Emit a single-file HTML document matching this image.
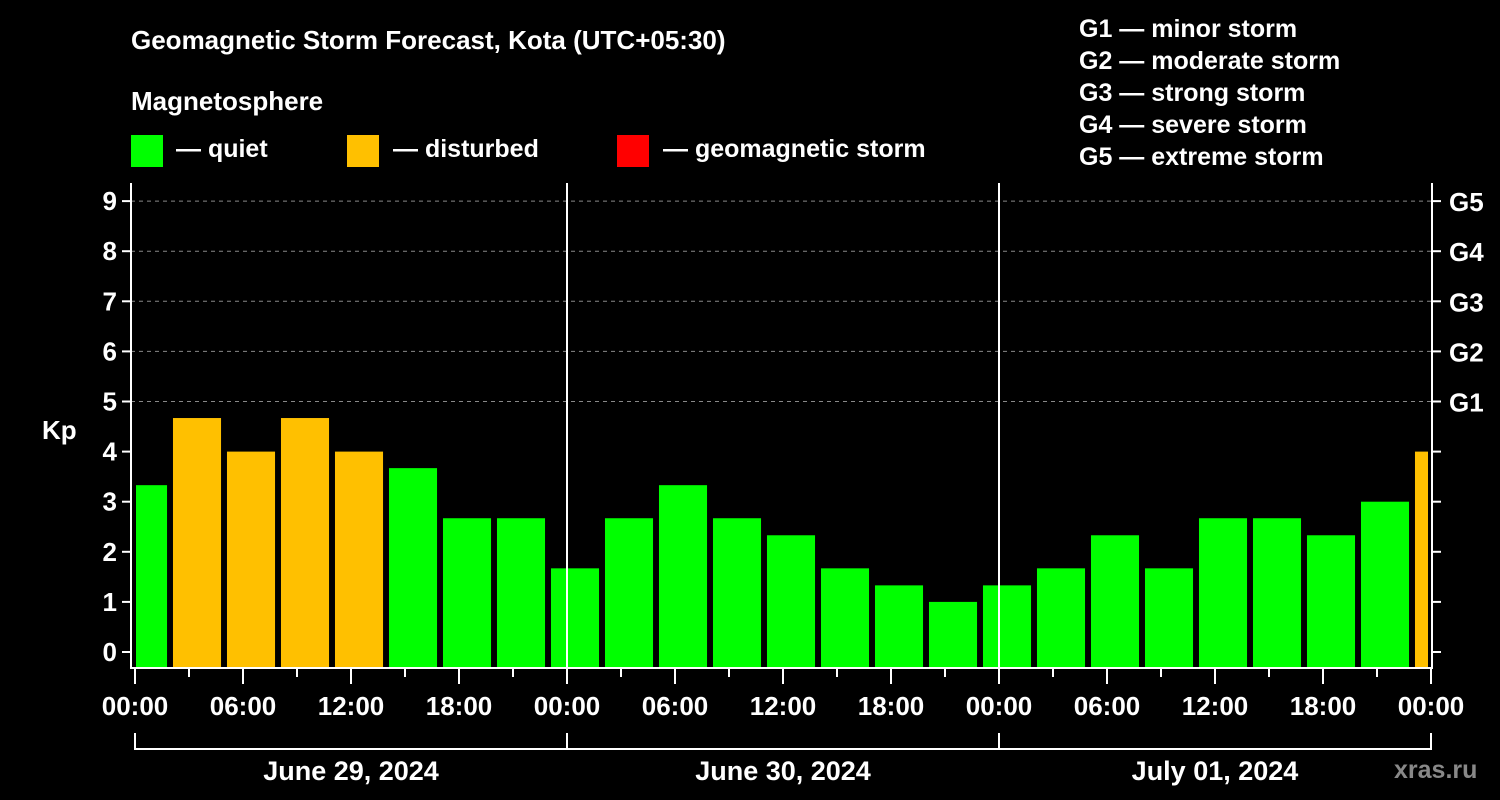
<!DOCTYPE html>
<html><head><meta charset="utf-8"><style>
html,body{margin:0;padding:0;background:#000;width:1500px;height:800px;overflow:hidden}
svg text{font-family:"Liberation Sans",Arial,sans-serif;font-weight:bold;fill:#fff}
</style></head><body>
<svg id="chart" width="1500" height="800" viewBox="0 0 1500 800" xmlns="http://www.w3.org/2000/svg">
<text x="131" y="49" font-size="26">Geomagnetic Storm Forecast, Kota (UTC+05:30)</text>
<text x="131" y="110" font-size="26">Magnetosphere</text>
<g>
<rect x="131" y="135" width="32" height="32" fill="#00ff00"/>
<text x="176" y="157" font-size="25">— quiet</text>
<rect x="347" y="135" width="32" height="32" fill="#ffc000"/>
<text x="393" y="157" font-size="25">— disturbed</text>
<rect x="617" y="135" width="32" height="32" fill="#ff0000"/>
<text x="663" y="157" font-size="25">— geomagnetic storm</text>
</g>
<g font-size="25">
<text x="1079" y="37">G1 — minor storm</text>
<text x="1079" y="69">G2 — moderate storm</text>
<text x="1079" y="101">G3 — strong storm</text>
<text x="1079" y="133">G4 — severe storm</text>
<text x="1079" y="165">G5 — extreme storm</text>
</g>
<text x="42" y="439" font-size="26">Kp</text>
<text x="1394" y="778" font-size="25" fill="#888" style="fill:#888">xras.ru</text>
<g id="grid"></g><g id="bars"></g><g id="axes"></g>
</svg>
<script>
const kpValues=[3.33,4.67,4,4.67,4,3.67,2.67,2.67,1.67,2.67,3.33,2.67,2.33,1.67,1.33,1,1.33,1.67,2.33,1.67,2.67,2.67,2.33,3,4];
const barStartHours=[-0.89,2.11,5.11,8.11,11.11,14.11,17.11,20.11,23.11,26.11,29.11,32.11,35.11,38.11,41.11,44.11,47.11,50.11,53.11,56.11,59.11,62.11,65.11,68.11,71.11];
const yTicks=[0,1,2,3,4,5,6,7,8,9];
const gLabels=["G1","G2","G3","G4","G5"];
const xTickLabels=["00:00","06:00","12:00","18:00","00:00","06:00","12:00","18:00","00:00","06:00","12:00","18:00","00:00"];
const dayLabels=["June 29, 2024","June 30, 2024","July 01, 2024"];
const NS="http://www.w3.org/2000/svg";
const X0=135,PXH=18,Y0=652,PXK=50.1,LEFT=131,RIGHT=1432,TOP=183,BOT=668;
const x=h=>X0+h*PXH, y=k=>Y0-k*PXK;
function mk(p,t,a){const e=document.createElementNS(NS,t);for(const k in a)e.setAttribute(k,a[k]);document.getElementById(p).appendChild(e);return e;}
// grid
for(let k=5;k<=9;k++){const l=mk('grid','line',{x1:LEFT,x2:RIGHT,y1:y(k),y2:y(k),stroke:'#888','stroke-dasharray':'4,4','stroke-width':1});

}
// bars
kpValues.forEach((v,i)=>{let s=Math.max(0,barStartHours[i]),e=Math.min(72,barStartHours[i]+2.67);
let x1=Math.max(x(s),136),x2=Math.min(x(e),1428);
const r=mk('bars','rect',{x:x1,y:y(v),width:x2-x1,height:BOT-y(v),fill:v>=5?'#ff0000':(v>=4?'#ffc000':'#00ff00')});

});
// axes frame
const fr=mk('axes','path',{d:`M${LEFT} ${TOP}V${BOT}H${RIGHT}V${TOP}`,stroke:'#fff','stroke-width':2,fill:'none'});


[24,48].forEach(h=>{const l=mk('axes','line',{x1:x(h),x2:x(h),y1:TOP,y2:BOT,stroke:'#fff','stroke-width':2});

});
yTicks.forEach(k=>{mk('axes','line',{x1:122,x2:LEFT,y1:y(k),y2:y(k),stroke:'#fff','stroke-width':2});
mk('axes','line',{x1:RIGHT,x2:1441,y1:y(k),y2:y(k),stroke:'#fff','stroke-width':2});
const t=mk('axes','text',{x:117,y:y(k)+9,'text-anchor':'end','font-size':26});t.textContent=k;

});
gLabels.forEach((g,i)=>{const t=mk('axes','text',{x:1449,y:y(5+i)+10,'font-size':26});t.textContent=g;

});
for(let h=0;h<=72;h+=3){const maj=h%6===0;mk('axes','line',{x1:x(h),x2:x(h),y1:BOT,y2:BOT+(maj?16:9),stroke:'#fff','stroke-width':2});}
xTickLabels.forEach((s,i)=>{const t=mk('axes','text',{x:x(i*6),y:715,'text-anchor':'middle','font-size':26});t.textContent=s;

});
mk('axes','path',{d:`M${x(0)} 733V749H${x(72)}V733`,stroke:'#fff','stroke-width':2,fill:'none'});
[24,48].forEach(h=>mk('axes','line',{x1:x(h),x2:x(h),y1:733,y2:749,stroke:'#fff','stroke-width':2}));
dayLabels.forEach((s,i)=>{const t=mk('axes','text',{x:x(i*24+12),y:780,'text-anchor':'middle','font-size':27});t.textContent=s;

});
</script>
</body></html>
